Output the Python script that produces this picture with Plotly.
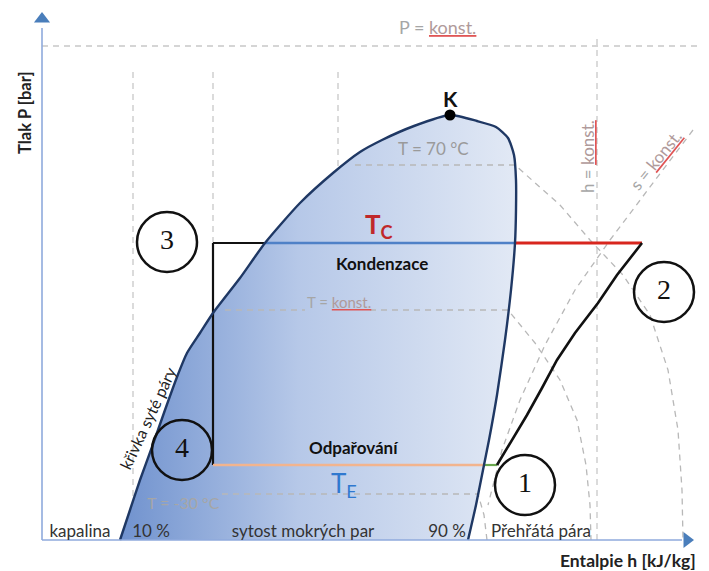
import plotly.graph_objects as go

# ---------------- data (schematic units: h = enthalpy, P = pressure) ----------------
liquid_h = [78, 88, 98, 110, 123, 135, 145, 158, 171, 198, 223, 258, 291, 318, 340, 372, 408]
liquid_p = [0, 30, 60, 93, 130, 163, 187, 207, 227, 262, 297, 337, 367, 388, 400, 414, 425]
vapor_h = [408, 435, 454, 466, 472, 474, 474, 473, 469, 463, 455, 447, 441, 434, 426]
vapor_p = [425, 419, 413, 402, 385, 360, 330, 297, 250, 200, 145, 100, 70, 35, 0]
crit_h, crit_p = [408], [425]

p_cond = 297
p_evap = 75
h3 = 171            # point 3 / 4 enthalpy
h_liq_cond = 223    # liquid line at condensing pressure
h_vap_cond = 473    # vapour line at condensing pressure
h2 = 600            # point 2
h_vap_evap = 441    # vapour line at evaporating pressure
h1 = 455            # point 1

comp_h = [455, 470, 485, 500, 515, 533, 556, 575, 600]
comp_p = [75, 100, 125, 152, 180, 207, 237, 265, 297]

grid_h = [91, 171, 296]
grid_top = 470
hconst_h = 555
pconst_p = 494

iso70_h = [313, 473, 518, 548, 581, 608, 626, 636, 640, 641]
iso70_p = [375, 375, 335, 300, 265, 225, 170, 110, 50, 0]
isomid_a_h = [183, 263]
isomid_a_p = [230, 230]
isomid_b_h = [328, 466, 493, 518, 535, 544, 548, 549]
isomid_b_p = [230, 230, 197, 160, 120, 75, 35, 0]
iso30_h = [180, 436, 442, 445]
iso30_p = [46, 46, 25, 0]
sconst_h = [651, 608, 568, 533, 503, 478, 460, 446]
sconst_p = [410, 353, 300, 250, 195, 140, 90, 35]

circle_labels = ["1", "2", "3", "4"]
circle_h = [483, 622, 125, 140]
circle_p = [55, 248, 298, 90]

zone_labels = ["kapalina", "10 %", "sytost mokrých par", "90 %", "Přehřátá pára"]
zone_h = [38, 109, 261, 405, 499]

# ---------------- figure ----------------
fig = go.Figure()
GRID = "#c8c8c8"
ISO = "#b8b8b8"
DASH = "6px,5px"

def line(x, y, color, width, dash=None):
    fig.add_trace(go.Scatter(x=x, y=y, mode="lines", hoverinfo="skip",
                             line=dict(color=color, width=width, dash=dash)))

# background dashed guide lines
for gh in grid_h:
    line([gh, gh], [0, grid_top], GRID, 1.3, DASH)
line([hconst_h, hconst_h], [0, 505], GRID, 1.3, DASH)
line([0, 667], [pconst_p, pconst_p], GRID, 1.3, DASH)

# dome fill with gradient
dome_h = liquid_h + vapor_h[1:]
dome_p = liquid_p + vapor_p[1:]
fig.add_trace(go.Scatter(
    x=dome_h + [dome_h[0]], y=dome_p + [dome_p[0]], mode="lines", fill="toself",
    line=dict(width=0, color="rgba(0,0,0,0)"), hoverinfo="skip",
    fillgradient=dict(type="horizontal",
                      colorscale=[[0, "rgb(112,146,206)"], [0.45, "rgb(182,200,232)"],
                                  [1, "rgb(226,233,245)"]])))

# isotherms / isentrope (dashed)
line(iso70_h, iso70_p, ISO, 1.3, DASH)
line(isomid_a_h, isomid_a_p, ISO, 1.3, DASH)
line(isomid_b_h, isomid_b_p, ISO, 1.3, DASH)
line(iso30_h, iso30_p, ISO, 1.3, DASH)
line(sconst_h, sconst_p, ISO, 1.3, DASH)

# refrigeration cycle
line([h3, h_liq_cond], [p_cond, p_cond], "#111111", 2.2)
line([h_liq_cond, h_vap_cond], [p_cond, p_cond], "#4f81c7", 2.6)
line([h_vap_cond, h2], [p_cond, p_cond], "#d8261e", 3)
line([h3, h3], [p_cond, p_evap], "#111111", 2.2)
line([h3, h_vap_evap], [p_evap, p_evap], "#f2b48e", 2.6)
line([h_vap_evap, h1], [p_evap, p_evap], "#6aa84f", 2.2)
line(comp_h, comp_p, "#111111", 2.6)
line([comp_h[-1], h2], [comp_p[-1], p_cond], "#111111", 2.6)

# dome outline
fig.add_trace(go.Scatter(x=dome_h, y=dome_p, mode="lines", hoverinfo="skip",
                         line=dict(color="#1f3864", width=2.4, shape="spline", smoothing=0.6)))

# axes with arrows
line([0, 0], [0, 512], "#8faadc", 1.6)
line([0, 640], [0, 0], "#8faadc", 1.6)
fig.add_trace(go.Scatter(x=[0], y=[521], mode="markers", hoverinfo="skip",
                         marker=dict(symbol="triangle-up", size=14, color="#4a7ebb")))
fig.add_trace(go.Scatter(x=[645], y=[0], mode="markers", hoverinfo="skip",
                         marker=dict(symbol="triangle-right", size=14, color="#4a7ebb")))

# critical point
fig.add_trace(go.Scatter(x=crit_h, y=crit_p, mode="markers", hoverinfo="skip",
                         marker=dict(size=11, color="#000000")))

# state point circles
fig.add_trace(go.Scatter(
    x=circle_h, y=circle_p, mode="markers+text", text=circle_labels,
    textposition="middle center", hoverinfo="skip",
    textfont=dict(family="Liberation Serif", size=28, color="#111111"),
    marker=dict(size=60, color="rgba(0,0,0,0)", line=dict(color="#111111", width=2.5))))

# zone labels along the bottom
fig.add_trace(go.Scatter(
    x=zone_h, y=[7] * len(zone_h), mode="text", text=zone_labels, hoverinfo="skip",
    textposition="middle center",
    textfont=dict(family="Lato", size=17, color="#333333")))

def ann(x, y, text, size=14, color="#222222", angle=0, family="Lato", **kw):
    fig.add_annotation(x=x, y=y, xref="x", yref="y", text=text, showarrow=False,
                       textangle=angle, font=dict(family=family, size=size, color=color), **kw)

UL = ('<span style="text-decoration:underline;color:#e05555">'
      '<span style="color:#b09a9a">konst.</span></span>')
ann(395, 513, "P = " + UL, 18, "#a6a6a6")
ann(408, 442, "<b>K</b>", 21, "#111111")
ann(391, 392, "T = 70 °C", 17, "#9a9a9a")
ann(337, 315, "<b>T<sub>C</sub></b>", 26, "#c0282a")
ann(340, 277, "<b>Kondenzace</b>", 17, "#111111")
ann(297, 238, "T = " + UL, 15, "#a6a6a6")
ann(312, 93, "<b>Odpařování</b>", 17, "#111111")
ann(302, 56, "T<sub>E</sub>", 26, "#2f78cf")
ann(141, 38, "T = -30 °C", 16, "#a6a6a6")
ann(105, 122, "křivka syté páry", 16, "#222222", angle=-65)
ann(545, 383, "h = " + UL, 17, "#a6a6a6", angle=-90)
ann(613, 380, "s = " + UL, 17, "#a6a6a6", angle=-51)
ann(-17, 427, "<b>Tlak P [bar]</b>", 16.5, "#222222", angle=-90)
ann(586, -20, "<b>Entalpie h [kJ/kg]</b>", 17.5, "#222222")

# page body has an 8px margin: size the figure so data land on the intended pixels
fig.update_layout(
    width=701, height=563, margin=dict(l=0, r=0, t=0, b=0),
    paper_bgcolor="white", plot_bgcolor="white", showlegend=False,
    xaxis=dict(range=[-34, 667], visible=False, fixedrange=True),
    yaxis=dict(range=[-31, 532], visible=False, fixedrange=True),
)

fig.write_html("out.html")
